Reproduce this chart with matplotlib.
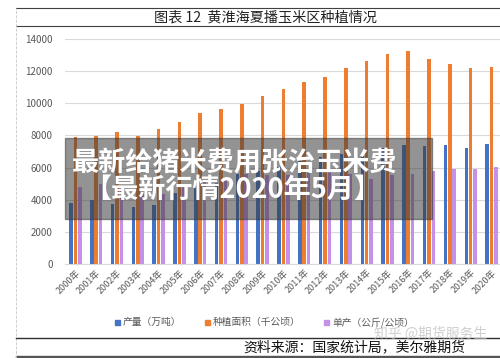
import matplotlib
matplotlib.use("Agg")
import matplotlib.pyplot as plt
import numpy as np
from matplotlib.patches import Rectangle
from matplotlib.lines import Line2D

plt.rcParams['font.family'] = ['Noto Sans CJK SC', 'DejaVu Sans']

years = ["%d年" % y for y in range(2000, 2021)]
production = [3815, 3980, 3750, 3530, 3670, 4420, 4850, 5050, 5600, 5800, 6050,
              6420, 6680, 6850, 6700, 7200, 7400, 7340, 7400, 7230, 7450]
area = [7880, 7980, 8230, 7980, 8400, 8840, 9400, 9630, 9980, 10450, 10890,
        11310, 11640, 12180, 12630, 13070, 13240, 12740, 12460, 12180, 12240]
yields = [4810, 4990, 4560, 4420, 4370, 5000, 5160, 5250, 5600, 5550, 5560,
          5680, 5740, 5620, 5300, 5510, 5590, 5760, 5940, 5940, 6060]
series_names = ["产量（万吨）", "种植面积（千公顷）", "单产（公斤/公顷）"]
colors = ["#4472C4", "#ED7D31", "#C490E8"]

fig = plt.figure(figsize=(5, 3.58), dpi=100)
ax = fig.add_axes([0.13, 0.2626, 0.87, 0.6285])

xs = np.arange(len(years))
w = 0.17
for i, (vals, c) in enumerate(zip([production, area, yields], colors)):
    ax.bar(xs + (i - 1) * 0.21, vals, width=w, color=c, zorder=2)

ax.set_ylim(0, 14000)
ax.set_xlim(-0.5, 20.41)
ax.set_yticks(np.arange(0, 14001, 2000))
ax.yaxis.grid(True, color="#d9d9d9", linewidth=0.8, zorder=0)
ax.set_axisbelow(True)
for s in ["top", "right", "left"]:
    ax.spines[s].set_visible(False)
ax.spines["bottom"].set_color("#d9d9d9")
ax.tick_params(axis="both", length=0, labelcolor="#595959")
ax.tick_params(axis="y", pad=9, labelsize=7)
ax.tick_params(axis="x", pad=3, labelsize=6.5)
ax.set_xticks(xs)
ax.set_xticklabels(years, rotation=45, ha="right", rotation_mode="anchor")

# frame lines of the report figure
fig.add_artist(Line2D([0.032, 1.0], [0.978, 0.978], color="#404040", lw=0.8))
fig.add_artist(Line2D([0.032, 1.0], [0.927, 0.927], color="#404040", lw=0.8))
fig.add_artist(Line2D([0.032, 0.032], [0.0, 0.978], color="#c8c8c8", lw=0.6, ls="--"))
fig.add_artist(Line2D([0.032, 1.0], [0.056, 0.056], color="#303030", lw=1.0))
fig.add_artist(Rectangle((0.032, 0.0), 0.968, 0.006, color="#555555"))

fig.text(0.53, 0.952, "图表 12  黄淮海夏播玉米区种植情况", ha="center", va="center",
         fontsize=10.2, color="#222222")

# legend
legend_x = [0.234, 0.414, 0.652]
for lx, name, c in zip(legend_x, series_names, colors):
    fig.add_artist(Rectangle((lx - 0.004, 0.093), 0.010, 0.014, color=c))
    fig.text(lx + 0.012, 0.100, name, ha="left", va="center", fontsize=7, color="#595959")

fig.text(0.93, 0.029, "资料来源：国家统计局，美尔雅期货", ha="right", va="center",
         fontsize=10, color="#111111")
fig.text(0.975, 0.069, "知乎 @期货服务生", ha="right", va="center",
         fontsize=10, color="#bbbbbb", alpha=0.7)

# overlay banner
fig.add_artist(Rectangle((0.13, 0.388), 0.734, 0.227, color="#3a3a3a", alpha=0.55))
fig.text(0.47, 0.545, "最新给猪米费用张治玉米费", ha="center", va="center",
         fontsize=19.5, fontweight="bold", color="white")
fig.text(0.465, 0.47, "【最新行情2020年5月】", ha="center", va="center",
         fontsize=19.5, fontweight="bold", color="white")

fig.savefig("out.png", dpi=100)
